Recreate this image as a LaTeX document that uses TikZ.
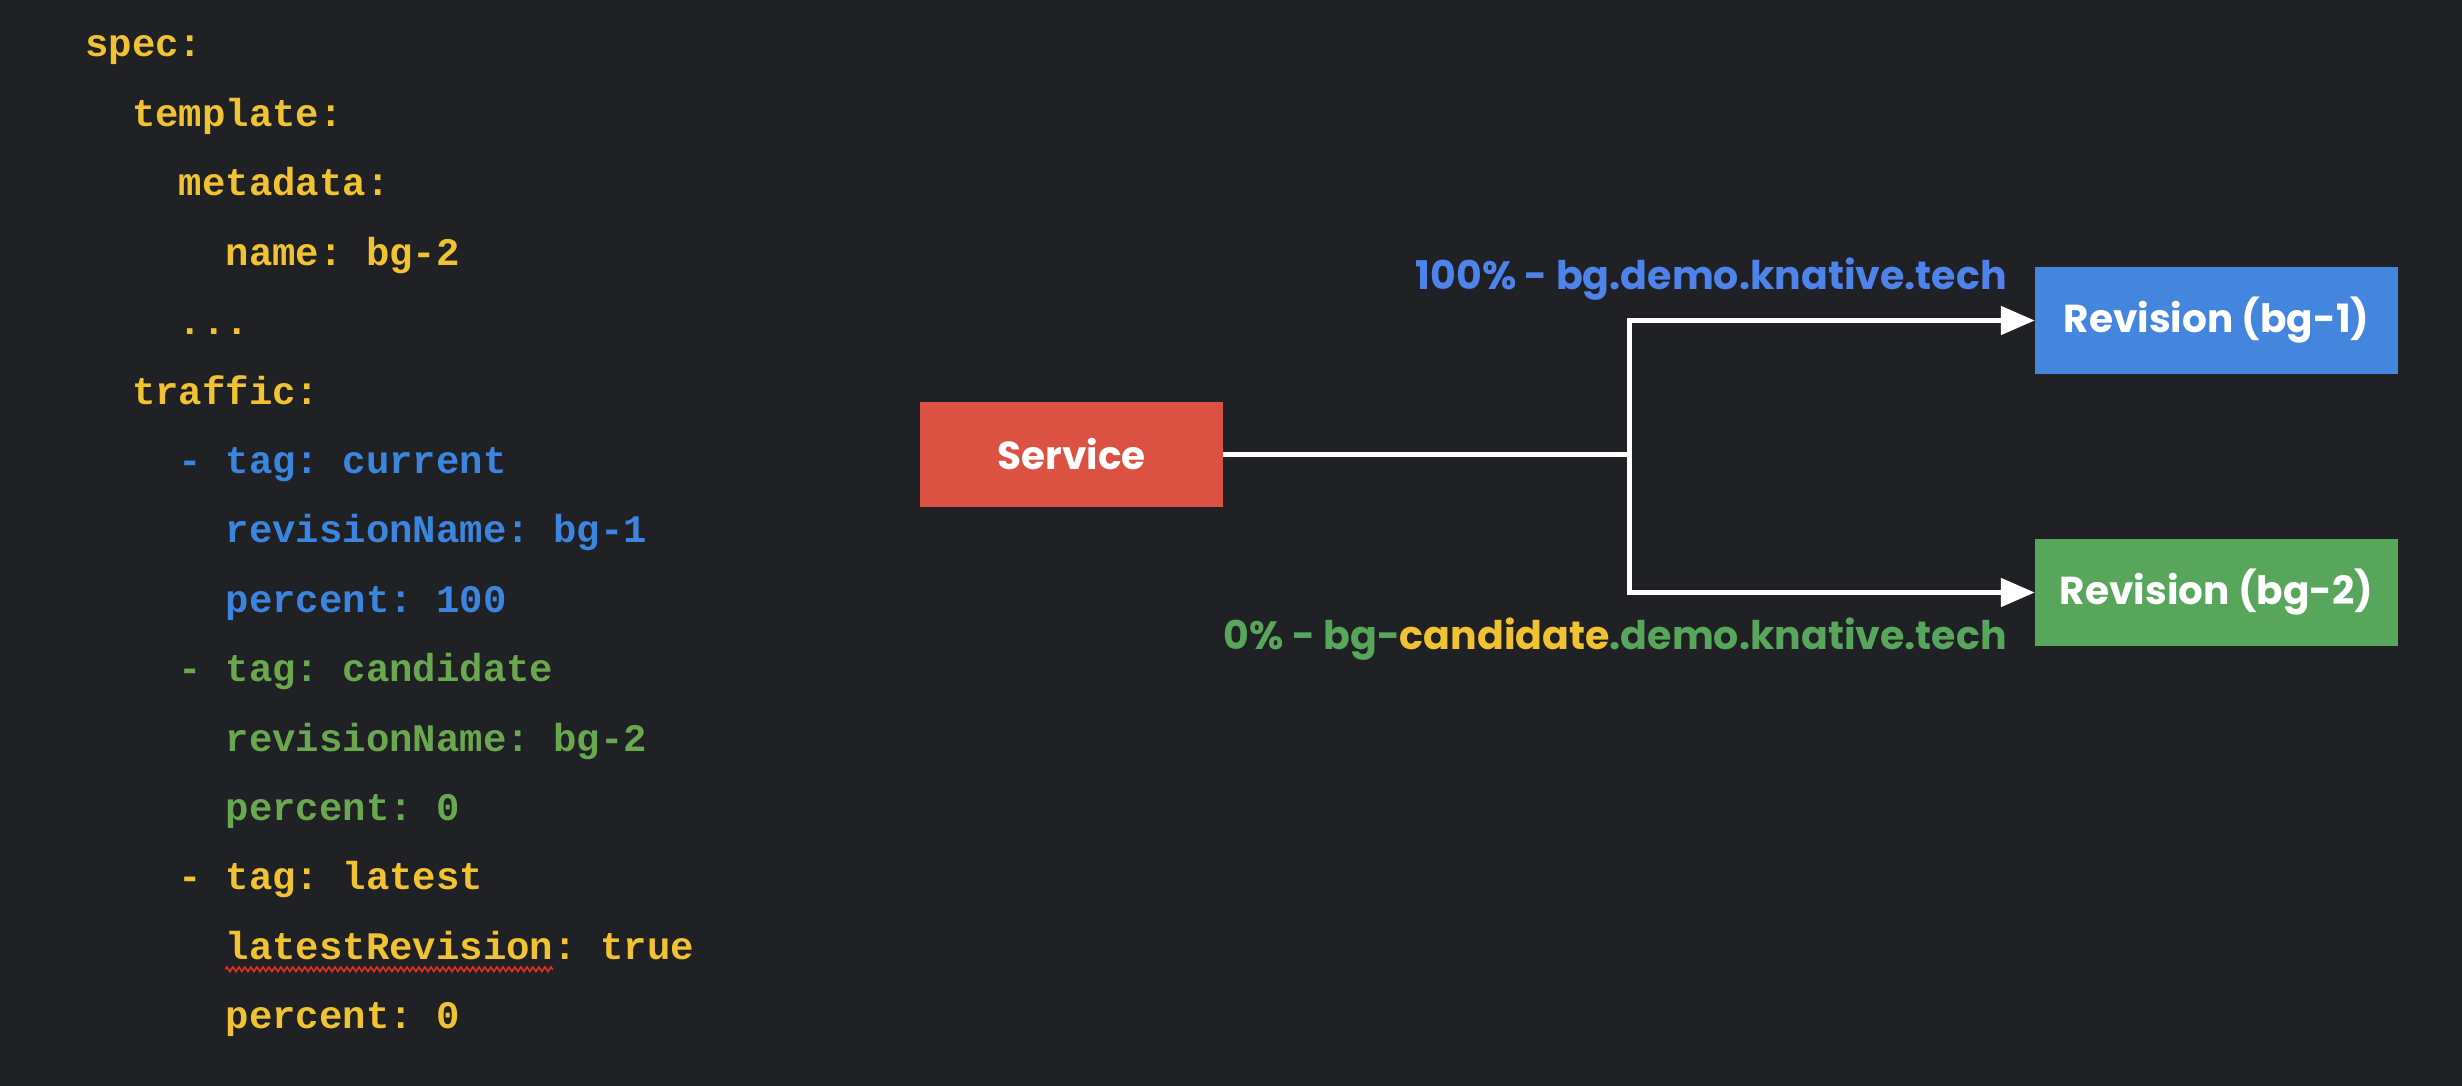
\documentclass[tikz,border=0pt]{standalone}
\usepackage{fontspec}
\setmainfont{Poppins}
\setmonofont{Liberation Mono}
\usetikzlibrary{arrows.meta,decorations.pathmorphing}
\definecolor{bg}{HTML}{202124}
\definecolor{cy}{HTML}{F1C232}
\definecolor{cb}{HTML}{3C85DE}
\definecolor{cg}{HTML}{6AA84F}
\definecolor{boxred}{HTML}{DB5142}
\definecolor{boxblue}{HTML}{4486DD}
\definecolor{boxgreen}{HTML}{57A65B}
\definecolor{lblue}{HTML}{4F83EC}
\definecolor{lgreen}{HTML}{57A65B}
\definecolor{squig}{HTML}{D93025}
\begin{document}
\begin{tikzpicture}[x=1pt,y=-1pt,
  code/.style={anchor=base west,inner sep=0pt,font=\ttfamily\bfseries\fontsize{39}{42}\selectfont},
  box/.style={draw=none,inner sep=0pt,text=white,font=\bfseries\fontsize{39}{42}\selectfont},
  lab/.style={anchor=base east,inner sep=0pt,font=\bfseries\fontsize{39.5}{42}\selectfont},
  conn/.style={draw=white,line width=5pt},
  tip/.style={-{Triangle[length=34pt,width=28pt]}}
]
\fill[bg] (0,0) rectangle (2462,1086);
\useasboundingbox (0,0) rectangle (2462,1086);

% code
\node[code,text=cy] (l0) at ({85+23.4*0},{57+69.4*0}) {spec:};
\node[code,text=cy] (l1) at ({85+23.4*2},{57+69.4*1}) {template:};
\node[code,text=cy] (l2) at ({85+23.4*4},{57+69.4*2}) {metadata:};
\node[code,text=cy] (l3) at ({85+23.4*6},{57+69.4*3}) {name: bg-2};
\node[code,text=cy] (l4) at ({85+23.4*4},{57+69.4*4}) {...};
\node[code,text=cy] (l5) at ({85+23.4*2},{57+69.4*5}) {traffic:};
\node[code,text=cb] (l6) at ({85+23.4*4},{57+69.4*6}) {- tag: current};
\node[code,text=cb] (l7) at ({85+23.4*6},{57+69.4*7}) {revisionName: bg-1};
\node[code,text=cb] (l8) at ({85+23.4*6},{57+69.4*8}) {percent: 100};
\node[code,text=cg] (l9) at ({85+23.4*4},{57+69.4*9}) {- tag: candidate};
\node[code,text=cg] (l10) at ({85+23.4*6},{57+69.4*10}) {revisionName: bg-2};
\node[code,text=cg] (l11) at ({85+23.4*6},{57+69.4*11}) {percent: 0};
\node[code,text=cy] (l12) at ({85+23.4*4},{57+69.4*12}) {- tag: latest};
\node[code,text=cy] (l13) at ({85+23.4*6},{57+69.4*13}) {latestRevision};
\node[code,text=cy] (l13b) at (l13.base east) {: true};
\node[code,text=cy] (l14) at ({85+23.4*6},{57+69.4*14}) {percent: 0};
\draw[squig,line width=1.8pt,decorate,decoration={zigzag,amplitude=2.2pt,segment length=6pt}]
  ([yshift=-10pt]l13.base west) -- ([yshift=-10pt]l13.base east);

% boxes
\node[box,fill=boxred,minimum width=303pt,minimum height=105pt] (svc) at (1071.5,454.5) {Service};
\node[box,fill=boxblue,minimum width=363pt,minimum height=107pt] (r1) at (2216.5,320.5) {Revision (bg-1)};
\node[box,fill=boxgreen,minimum width=363pt,minimum height=107pt] (r2) at (2216.5,592.5) {Revision (bg-2)};

% connectors
\coordinate (jn) at (1629,454.5);
\draw[conn] (svc.east) -- (jn);
\draw[conn,tip] (jn) |- (r1.west);
\draw[conn,tip] (jn) |- (r2.west);

% labels
\node[lab,text=lblue] (t1) at (2007,289) {100\% - bg.demo.knative.tech};
\node[lab,text=lgreen] (t2) at (2007,649) {0\% - bg-\textcolor{cy}{candidate}.demo.knative.tech};
\end{tikzpicture}
\end{document}
